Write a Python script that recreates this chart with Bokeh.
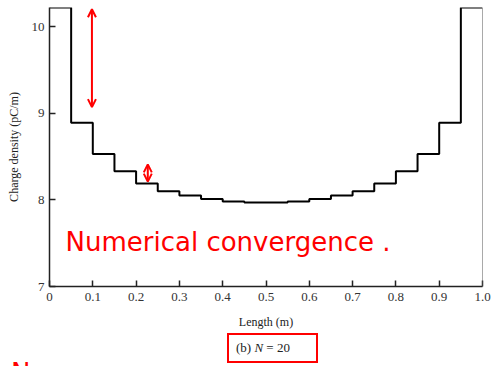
from bokeh.plotting import figure
from bokeh.models import (FixedTicker, Label, Arrow, OpenHead, Range1d, Span, Div)
from bokeh.layouts import column
from bokeh.embed import file_html
from bokeh.resources import INLINE

# segment starts (m) and charge density per segment (pC/m), N = 20
seg_start = [0.00, 0.05, 0.10, 0.15, 0.20, 0.25, 0.30, 0.35, 0.40, 0.45,
             0.50, 0.55, 0.60, 0.65, 0.70, 0.75, 0.80, 0.85, 0.90, 0.95]
seg_end = 1.0
rho = [10.22, 8.89, 8.53, 8.33, 8.19, 8.10, 8.05, 8.01, 7.98, 7.97,
       7.97, 7.98, 8.01, 8.05, 8.10, 8.19, 8.33, 8.53, 8.89, 10.22]

x_ticks = [0.0, 0.1, 0.2, 0.3, 0.4, 0.5, 0.6, 0.7, 0.8, 0.9, 1.0]
x_tick_labels = ["0", "0.1", "0.2", "0.3", "0.4", "0.5", "0.6", "0.7", "0.8", "0.9", "1.0"]
y_ticks = [7, 8, 9, 10]
y_tick_labels = ["7", "8", "9", "10"]

# hand-drawn annotations: arrows (x, y_top, y_bottom)
arrow_big = (0.098, 10.20, 9.07)
arrow_small = (0.227, 8.41, 8.21)
note_text = "Numerical convergence ."
caption_html = "(b) <i>N</i> = 20"
stray_note = "N"

SERIF = "Liberation Serif"

p = figure(width=492, height=333, output_backend="svg", toolbar_location=None,
           x_range=Range1d(0, 1.0), y_range=Range1d(7, 10.22),
           min_border_left=49, min_border_right=10, min_border_top=7,
           min_border_bottom=47)
p.grid.visible = False
p.outline_line_color = None
p.background_fill_color = "white"

xs = seg_start + [seg_end]
ys = rho + [rho[-1]]
p.step(xs, ys, mode="after", line_color="black", line_width=2)

for ax in (p.xaxis[0], p.yaxis[0]):
    ax.axis_line_color = "#222222"
    ax.axis_line_width = 1.5
    ax.major_tick_in = 6
    ax.major_tick_out = 0
    ax.major_tick_line_color = "#222222"
    ax.major_tick_line_width = 1.5
    ax.minor_tick_line_color = None
    ax.major_label_text_font = SERIF
    ax.major_label_text_font_size = "13px"
    ax.major_label_text_color = "#333333"
    ax.axis_label_text_font = SERIF
    ax.axis_label_text_font_size = "12px"
    ax.axis_label_text_font_style = "normal"
    ax.axis_label_text_color = "#222222"

p.xaxis[0].ticker = FixedTicker(ticks=x_ticks)
p.xaxis[0].major_label_overrides = {t: l for t, l in zip(x_ticks, x_tick_labels)}
p.xaxis[0].axis_label = "Length (m)"
p.xaxis[0].major_label_standoff = 6
p.xaxis[0].axis_label_standoff = 11

p.yaxis[0].ticker = FixedTicker(ticks=y_ticks)
p.yaxis[0].major_label_overrides = {t: l for t, l in zip(y_ticks, y_tick_labels)}
p.yaxis[0].axis_label = "Charge density (pC/m)"
p.yaxis[0].major_label_standoff = 5
p.yaxis[0].axis_label_standoff = 8

# right frame edge
p.add_layout(Span(location=seg_end, dimension="height", line_color="#555555",
                  line_width=1))

# handwritten-style note
p.add_layout(Label(x=0.037, y=7.515, text=note_text, text_color="red",
                   text_font="DejaVu Sans", text_font_size="26px",
                   text_baseline="alphabetic"))

for (ax_x, y0, y1) in (arrow_big, arrow_small):
    p.add_layout(Arrow(x_start=ax_x, y_start=y0, x_end=ax_x, y_end=y1,
                       line_color="red", line_width=2,
                       start=OpenHead(size=8, line_color="red", line_width=2),
                       end=OpenHead(size=8, line_color="red", line_width=2)))

caption = Div(width=492, height=33, text=(
    '<div style="position:relative;width:492px;height:33px;overflow:visible;">'
    '<span style="position:absolute;left:222px;top:-5px;width:91px;height:30px;'
    'box-sizing:border-box;padding:4px 0px 0px 7px;border:2px solid red;'
    'font-family:\'Liberation Serif\';font-size:13px;color:#222;line-height:18px;'
    'white-space:nowrap;">'
    + caption_html + '</span>'
    '<span style="position:absolute;left:6px;top:22px;color:red;'
    'font-family:\'DejaVu Sans\';font-size:26px;line-height:26px;">'
    + stray_note + '</span></div>'))

layout = column(p, caption, spacing=0)
open("out.html", "w").write(file_html(layout, INLINE))
